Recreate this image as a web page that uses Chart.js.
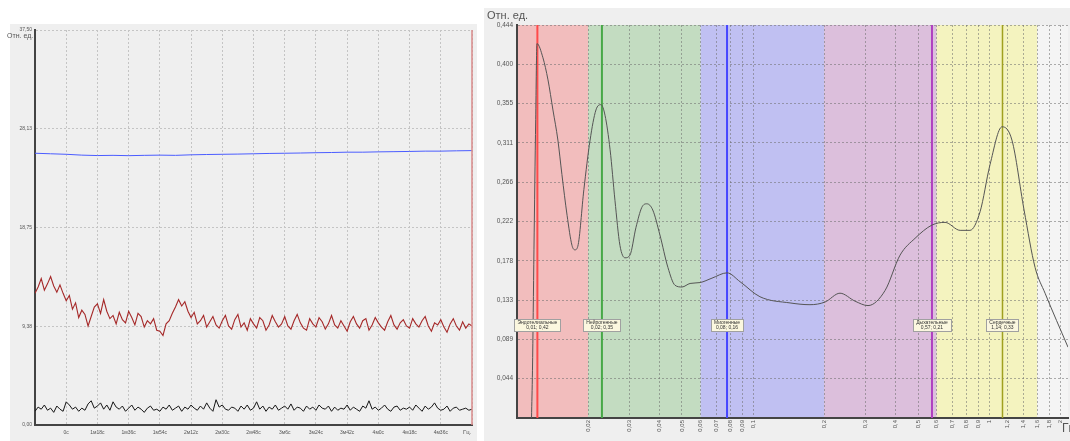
<!DOCTYPE html>
<html>
<head>
<meta charset="utf-8">
<script src="https://cdn.jsdelivr.net/npm/chart.js@4.4.0/dist/chart.umd.min.js"></script>
<style>
  body { margin: 0; width: 1070px; height: 441px; overflow: hidden; background: #fff; position: relative; font-family: Arial, "Liberation Sans", sans-serif; }
  #left { position: absolute; left: 10px; top: 24px; width: 467px; height: 417px; background: #efefef; }
  #right { position: absolute; left: 484px; top: 8px; width: 586px; height: 433px; background: #efefef; }
  .t { position: absolute; color: #555; white-space: nowrap; }
</style>
</head>
<body>
<div id="left"><canvas id="chartLeft" width="467" height="417"></canvas></div>
<div id="right"><canvas id="chartRight" width="586" height="433"></canvas></div>
<div class="t" style="left:7px;top:32px;font-size:7px;">Отн. ед.</div>
<div class="t" style="left:463px;top:429px;font-size:6px;">Гц.</div>
<div class="t" style="left:487px;top:9px;font-size:11px;">Отн. ед.</div>
<div class="t" style="left:1062px;top:421px;font-size:12px;">Гц</div>
<script>
// ---- left chart: time series ----
const timeLabels = ["", "0с", "1м18с", "1м36с", "1м54с", "2м12с", "2м30с", "2м48с",
  "3м6с", "3м24с", "3м42с", "4м0с", "4м18с", "4м36с", ""];
const leftTicks = [0, 9.375, 18.75, 28.125, 37.5];

const blueValues = [25.8, 25.75, 25.7, 25.62, 25.58, 25.6, 25.57, 25.6, 25.62, 25.6,
  25.65, 25.68, 25.7, 25.72, 25.75, 25.78, 25.8, 25.82, 25.85, 25.87,
  25.9, 25.9, 25.93, 25.95, 25.97, 26.0, 26.0, 26.03, 26.05];

const redValues = [
  12.5, 13.1, 13.9, 12.8, 13.4, 14.1, 13.2, 12.6, 13.3, 12.5,
  11.8, 12.3, 11.0, 11.6, 10.2, 10.9, 10.5, 9.4, 10.3, 11.2,
  11.5, 10.6, 11.9, 10.8, 10.1, 10.4, 9.6, 10.7, 10.0, 9.7,
  10.8, 10.2, 9.5, 10.6, 10.3, 9.3, 9.9, 9.6, 10.1, 9.0,
  8.9, 8.5, 9.6, 9.9, 10.6, 11.2, 11.9, 11.3, 11.7, 10.8,
  10.2, 10.7, 9.6, 9.9, 10.4, 9.3, 9.8, 10.3, 9.5, 9.2,
  9.9, 10.4, 9.4, 9.1, 10.0, 10.5, 9.3, 9.7, 9.0, 10.1,
  9.6, 9.2, 10.2, 9.9, 9.0, 9.5, 10.4, 9.8, 9.3, 9.6,
  10.3, 9.4, 9.1, 9.9, 10.5, 9.7, 9.2, 9.0, 10.1, 9.6,
  9.3, 10.2, 9.8, 9.1, 9.6, 10.4, 9.5, 9.2, 9.9, 9.4,
  8.9, 9.8, 10.3, 9.6, 9.2, 9.9, 10.1, 9.0, 9.5, 10.2,
  9.7, 9.3, 9.0, 9.8, 10.4, 9.5, 9.1, 9.7, 10.0, 9.4,
  9.2, 10.1, 9.6, 9.3, 9.9, 10.3, 9.4, 8.9, 9.7, 9.5,
  10.0, 9.3, 8.8, 9.6, 10.1, 9.4, 9.0, 9.8, 9.2, 9.6,
  9.4];

const blackValues = [
  1.3, 1.7, 1.5, 1.9, 1.4, 1.6, 1.2, 1.8, 1.5, 1.3,
  2.2, 1.9, 1.5, 1.7, 1.3, 1.6, 1.4, 2.0, 2.3, 1.6,
  1.8, 2.1, 1.5, 1.9, 1.4, 2.2, 1.7, 1.5, 1.8, 1.3,
  1.6, 1.9, 1.4, 1.7, 1.5, 1.2, 1.6, 1.8, 1.4, 1.5,
  1.3, 1.7, 1.5, 1.9, 1.4, 1.6, 1.8, 1.3, 1.7, 1.5,
  1.9, 1.6, 1.4, 1.8, 1.5, 2.1, 1.6, 1.3, 2.4, 1.7,
  1.9, 1.5, 1.4, 1.7, 1.6, 1.3, 1.8, 1.5, 1.9, 1.4,
  1.6, 2.2, 1.5, 1.8, 1.3, 1.7, 1.5, 1.9, 1.4, 1.6,
  1.8, 1.5, 2.0, 1.4, 1.7, 1.6, 1.3, 1.8, 1.5, 1.7,
  1.4, 1.9, 1.6, 1.5, 1.8, 1.3, 1.7, 1.4, 1.6, 1.5,
  1.9, 1.4, 1.7, 1.5, 1.3, 1.8, 1.6, 2.3, 1.5, 1.7,
  1.4, 1.6, 1.9, 1.5, 1.3, 1.7, 1.8, 1.4, 1.6, 1.5,
  1.7, 1.4, 1.9, 1.6, 1.3, 1.8, 1.5, 1.7, 2.1, 1.6,
  1.4, 1.5, 1.8, 1.3, 1.6, 1.7, 1.4, 1.5, 1.6, 1.4,
  1.5];

// ---- right chart: spectrum ----
const specFreq = [0.01152, 0.01163, 0.0118, 0.012, 0.01215, 0.01288, 0.01353, 0.0142, 0.0149, 0.0155,
  0.0163, 0.0171, 0.0176, 0.0181, 0.0192, 0.0204, 0.0216, 0.0227, 0.0236, 0.0248,
  0.026, 0.0273, 0.0287, 0.0301, 0.0319, 0.0338, 0.0355, 0.0376, 0.0403, 0.0436,
  0.0467, 0.05, 0.0541, 0.0596, 0.067, 0.0776, 0.0881, 0.107, 0.1435, 0.1743,
  0.2018, 0.2336, 0.2705, 0.307, 0.3625, 0.4197, 0.4857, 0.5731, 0.651, 0.754,
  0.83, 0.916, 1.009, 1.135, 1.25, 1.407, 1.567, 1.727, 2.16];
const specValue = [0, 0.054, 0.19, 0.337, 0.423, 0.407, 0.382, 0.348, 0.314, 0.275,
  0.229, 0.195, 0.19, 0.194, 0.258, 0.314, 0.348, 0.354, 0.342, 0.303,
  0.246, 0.195, 0.181, 0.184, 0.215, 0.238, 0.242, 0.235, 0.207, 0.17,
  0.15, 0.148, 0.152, 0.153, 0.158, 0.164, 0.154, 0.137, 0.13, 0.128,
  0.131, 0.141, 0.132, 0.127, 0.144, 0.184, 0.203, 0.218, 0.221, 0.212,
  0.212, 0.233, 0.286, 0.329, 0.314, 0.235, 0.17, 0.141, 0.08];

const freqTicks = [0.02, 0.03, 0.04, 0.05, 0.06, 0.07, 0.08, 0.09, 0.1, 0.2, 0.3, 0.4, 0.5,
  0.6, 0.7, 0.8, 0.9, 1, 1.2, 1.4, 1.6, 1.8, 2];
const rightTicks = [0, 0.0444, 0.0888, 0.1332, 0.1776, 0.222, 0.2664, 0.3108, 0.3552, 0.3996, 0.444];

const bandFrom = [0.01, 0.02, 0.06, 0.2, 0.6, 1.6];
const bandTo = [0.02, 0.06, 0.2, 0.6, 1.6, 2.16];
const bandColors = ["#f2bdbd", "#c3dcc1", "#c0c0f2", "#dcbfdc", "#f4f3bf", "#f4f4f4"];

const markerFreq = [0.0122, 0.0229, 0.0776, 0.573, 1.14];
const markerNames = ["Эндотелиальные", "Нейрогенные", "Миогенные", "Дыхательные", "Сердечные"];
const markerText = ["0,01; 0,42", "0,02; 0,35", "0,08; 0,16", "0,57; 0,21", "1,14; 0,33"];
const markerColors = ["#ff4a4a", "#47a847", "#4646ff", "#b040c0", "#a0a020"];

const comma = (v, d) => v.toFixed(d).replace(".", ",");
const byIndex = (vals) => vals.map((v, i) => ({ x: i * 14 / (vals.length - 1), y: v }));

const leftFrame = {
  id: "leftFrame",
  afterDraw(chart) {
    const { ctx, chartArea: a } = chart;
    ctx.save();
    ctx.strokeStyle = "#d88a8a";
    ctx.lineWidth = 1.5;
    ctx.beginPath();
    ctx.moveTo(a.right, a.top);
    ctx.lineTo(a.right, a.bottom);
    ctx.stroke();
    ctx.restore();
  }
};

new Chart(document.getElementById("chartLeft"), {
  type: "line",
  data: {
    datasets: [
      { data: byIndex(blackValues), borderColor: "#151515", borderWidth: 1, pointRadius: 0 },
      { data: byIndex(redValues), borderColor: "#a52828", borderWidth: 1.1, pointRadius: 0 },
      { data: byIndex(blueValues), borderColor: "#4a5cff", borderWidth: 1, pointRadius: 0 }
    ]
  },
  options: {
    responsive: false,
    animation: false,
    layout: { padding: { top: 5, right: 4, left: 0, bottom: 0 } },
    plugins: { legend: { display: false }, tooltip: { enabled: false } },
    scales: {
      x: {
        type: "linear", min: 0, max: 14,
        afterBuildTicks: (s) => { s.ticks = timeLabels.map((_, i) => ({ value: i })); },
        afterFit: (s) => { s.height = 16; },
        ticks: {
          autoSkip: false, maxRotation: 0, padding: 5, color: "#555",
          font: { size: 5, family: "Arial" },
          callback: (v) => timeLabels[v]
        },
        grid: { color: "#c4c4c4", drawTicks: false },
        border: { color: "#444", width: 2, dash: [2, 2] }
      },
      y: {
        min: 0, max: 37.5,
        afterBuildTicks: (s) => { s.ticks = leftTicks.map((v) => ({ value: v })); },
        afterFit: (s) => { s.width = 25; },
        ticks: { padding: 3, color: "#555", font: { size: 5, family: "Arial" }, callback: (v) => comma(v, 2) },
        grid: { color: "#c4c4c4", drawTicks: false },
        border: { color: "#444", width: 2, dash: [2, 2] }
      }
    }
  },
  plugins: [leftFrame]
});

const spectrumBands = {
  id: "spectrumBands",
  beforeDraw(chart) {
    const { ctx, chartArea: a, scales: { x } } = chart;
    ctx.save();
    bandFrom.forEach((f, i) => {
      const x1 = x.getPixelForValue(f);
      const x2 = Math.min(x.getPixelForValue(bandTo[i]), a.right);
      ctx.fillStyle = bandColors[i];
      ctx.fillRect(x1, a.top, x2 - x1, a.bottom - a.top);
    });
    ctx.restore();
  },
  beforeDatasetsDraw(chart) {
    const { ctx, chartArea: a, scales: { x } } = chart;
    ctx.save();
    markerFreq.forEach((f, i) => {
      const px = x.getPixelForValue(f);
      ctx.strokeStyle = markerColors[i];
      ctx.lineWidth = i === 4 ? 1.5 : 2;
      ctx.beginPath();
      ctx.moveTo(px, a.top);
      ctx.lineTo(px, a.bottom);
      ctx.stroke();
    });
    ctx.restore();
  },
  afterDatasetsDraw(chart) {
    const { ctx, scales: { x, y } } = chart;
    ctx.save();
    ctx.font = "5px Arial";
    ctx.textAlign = "center";
    ctx.textBaseline = "middle";
    markerFreq.forEach((f, i) => {
      const cx = x.getPixelForValue(f);
      const cy = y.getPixelForValue(0.105);
      const w = Math.max(ctx.measureText(markerNames[i]).width, ctx.measureText(markerText[i]).width) + 6;
      const h = 12;
      ctx.fillStyle = "#fbf7df";
      ctx.strokeStyle = "#a0a0a0";
      ctx.lineWidth = 1;
      ctx.fillRect(cx - w / 2, cy - h / 2, w, h);
      ctx.strokeRect(Math.round(cx - w / 2) + 0.5, Math.round(cy - h / 2) + 0.5, Math.round(w), h);
      ctx.fillStyle = "#333";
      ctx.fillText(markerNames[i], cx, cy - 2.5);
      ctx.fillText(markerText[i], cx, cy + 3);
    });
    ctx.restore();
  }
};

new Chart(document.getElementById("chartRight"), {
  type: "line",
  data: {
    datasets: [{
      data: specFreq.map((f, i) => ({ x: f, y: specValue[i] })),
      borderColor: "#555",
      borderWidth: 1,
      pointRadius: 0,
      cubicInterpolationMode: "monotone"
    }]
  },
  options: {
    responsive: false,
    animation: false,
    layout: { padding: { top: 17, right: 2, left: 0, bottom: 0 } },
    plugins: { legend: { display: false }, tooltip: { enabled: false } },
    scales: {
      x: {
        type: "logarithmic", min: 0.01, max: 2.16,
        afterBuildTicks: (s) => { s.ticks = freqTicks.map((v) => ({ value: v })); },
        afterFit: (s) => { s.height = 23; },
        ticks: {
          autoSkip: false, maxRotation: 90, minRotation: 90, padding: 2, color: "#555",
          font: { size: 6, family: "Arial" },
          callback: (v) => String(v).replace(".", ",")
        },
        grid: { color: "rgba(110,110,110,0.55)", drawTicks: false },
        border: { color: "#444", width: 2, dash: [2, 2] }
      },
      y: {
        min: 0, max: 0.444,
        afterBuildTicks: (s) => { s.ticks = rightTicks.map((v) => ({ value: v })); },
        afterFit: (s) => { s.width = 33; },
        ticks: {
          padding: 4, color: "#555", font: { size: 6.5, family: "Arial" },
          callback: (v) => (v === 0 ? "" : comma(v, 3))
        },
        grid: { color: "rgba(110,110,110,0.55)", drawTicks: false },
        border: { color: "#444", width: 2, dash: [2, 2] }
      }
    }
  },
  plugins: [spectrumBands]
});
</script>
</body>
</html>
